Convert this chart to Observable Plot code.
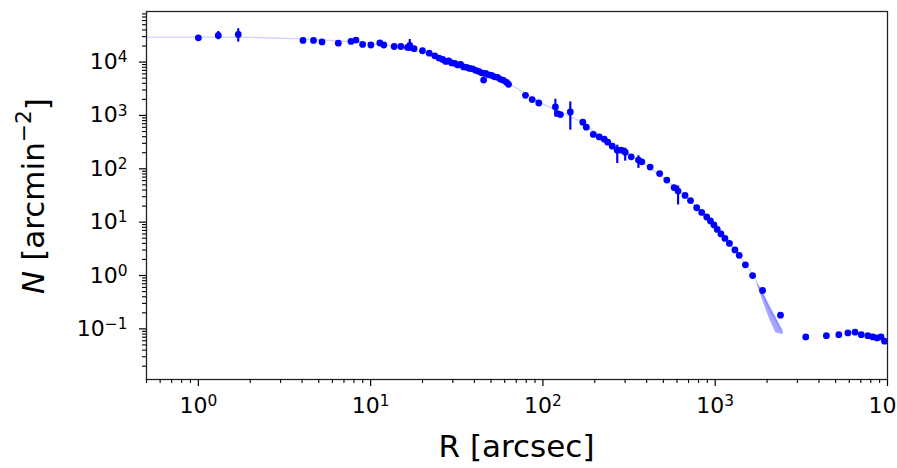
<!DOCTYPE html>
<html><head><meta charset="utf-8">
<script src="https://cdn.jsdelivr.net/npm/d3@7"></script>
<script src="https://cdn.jsdelivr.net/npm/@observablehq/plot@0.6"></script>
<style>
html,body{margin:0;padding:0;background:#fff;overflow:hidden;}
</style></head><body><div id="chart"></div>
<script>
// Observed profile points: radius R [arcsec] and surface density N [arcmin^-2]
const R = [1.0, 1.305, 1.704, 4.05, 4.66, 5.22, 6.49, 7.69, 8.22, 8.98, 10.03, 11.31, 11.93, 13.69, 14.96, 16.36, 16.87, 17.87, 19.99, 21.88, 23.55, 24.94,
  26.19, 27.26, 28.38, 29.53, 30.74, 32.00, 33.30, 34.66, 36.07, 37.54, 39.07, 40.67, 42.33, 44.06, 45.25, 46.46, 48.36, 50.33, 52.39, 54.53, 56.75, 59.07, 61.48, 63.14,
  79.2, 86.6, 94.6, 118.1, 121.3, 126.3, 144.2, 170.4, 178.6, 196.1, 212.3, 227.0, 237.8, 252.6, 270.0, 284.7, 300.3, 325.3, 358.5, 375.1, 419.0,
  475.7, 523.6, 577.1, 608.7, 668.2, 719.0, 780.8, 834.9, 892.3, 938.7, 983.5, 1027.6, 1079.6, 1138.7, 1209.1, 1301.4, 1378.2, 1497.0,
  1648.0, 1882.7, 2392.6, 3353, 4418, 5218, 5891, 6484, 7043, 7691, 8221, 8696, 9171, 9608];
const N = [28500, 31500, 33000, 25500, 25500, 23900, 22600, 24400, 25800, 21400, 20900, 22800, 20900, 19600, 19600, 18800, 20500, 17800, 16300, 14700, 13100, 11900,
  11230, 10300, 10530, 9660, 9460, 8860, 9060, 8130, 7960, 7620, 7460, 7000, 6700, 6280, 4600, 6150, 5770, 5640, 5290, 5180, 4750, 4550, 4180, 3830,
  2385, 1983, 1712, 1442, 1085, 1039, 1163, 746, 602, 440, 396, 359, 316, 266, 223.6, 223.6, 205, 167.6, 145.4, 135.1, 107.6,
  81.3, 61.5, 44.5, 38.3, 31.7, 25.4, 18.6, 15.2, 12.5, 10.5, 8.87, 7.31, 6.02, 4.96, 4.00, 3.02, 2.39, 1.585,
  0.996, 0.524, 0.1804, 0.0706, 0.0746, 0.0779, 0.0838, 0.0868, 0.0779, 0.0746, 0.0706, 0.0676, 0.0706, 0.0589];

// Error bars
const errR  = [1.305, 1.704, 16.87, 45.25, 118.1, 144.2, 270.0, 300.3, 358.5, 608.7];
const errLo = [26200, 23700, 15800, 4000, 938, 529, 126, 139, 101.7, 20.97];
const errHi = [37500, 42100, 26500, 5300, 2009, 1788, 277, 244, 175, 47.5];

// Model curve
const modelR = [0.5, 1, 2, 4, 8, 15, 25, 40, 60, 100, 160, 250, 400, 600, 900, 1300, 1700, 2100, 2470];
const modelN = [29300, 29300, 29000, 27200, 24000, 19500, 12000, 7000, 4400, 1650, 820, 290, 118, 42, 12.5, 3.1, 0.9, 0.21, 0.085];

// Model uncertainty band
const bandR  = [1745, 1890, 2075, 2247, 2467];
const bandHi = [0.731, 0.496, 0.2714, 0.1690, 0.0926];
const bandLo = [0.700, 0.3365, 0.1486, 0.0849, 0.0779];

// Axis tick labels (exponents of 10)
const xMajor = [1, 10, 100, 1000, 10000];
const xMajorLabels = ["0", "1", "2", "3", "4"];
const yMajor = [0.1, 1, 10, 100, 1000, 10000];
const yMajorLabels = ["\u22121", "0", "1", "2", "3", "4"];

const points = R.map((r, i) => ({R: r, N: N[i]}));
const errs = errR.map((r, i) => ({R: r, lo: errLo[i], hi: errHi[i]}));
const model = modelR.map((r, i) => ({R: r, N: modelN[i]}));
const band = bandR.map((r, i) => ({R: r, lo: bandLo[i], hi: bandHi[i]}));

function minorTicks(lo, hi, eLo, eHi) {
  const out = [];
  for (let e = eLo; e <= eHi; e++) for (let m = 2; m <= 9; m++) {
    const v = m * Math.pow(10, e);
    if (v >= lo && v <= hi) out.push(v);
  }
  return out;
}

const xDomain = [0.5, 10000];
const yDomain = [0.01125, 88700];

const chart = Plot.plot({
  width: 897, height: 468,
  marginLeft: 146, marginRight: 10, marginTop: 11, marginBottom: 89,
  style: {fontFamily: "'DejaVu Sans', sans-serif", fontSize: "22px", color: "#000", background: "#fff"},
  x: {type: "log", domain: xDomain},
  y: {type: "log", domain: yDomain},
  marks: [
    Plot.line(model, {x: "R", y: "N", stroke: "#0000ff", strokeOpacity: 0.18, strokeWidth: 1.4}),
    Plot.areaY(band, {x: "R", y1: "lo", y2: "hi", fill: "#0000ff", fillOpacity: 0.35}),
    Plot.ruleX(errs, {x: "R", y1: "lo", y2: "hi", stroke: "#0000ff", strokeWidth: 2.2}),
    Plot.dot(points, {x: "R", y: "N", r: 3.4, fill: "#0000ff", stroke: "none"}),
    Plot.frame({stroke: "#222", strokeWidth: 1.3}),
    Plot.axisX({ticks: minorTicks(xDomain[0], xDomain[1], -1, 3), tickSize: 4, tickFormat: () => "", label: null, strokeWidth: 1.1}),
    Plot.axisX({ticks: xMajor, tickSize: 7, tickPadding: 11, label: null, strokeWidth: 1.2,
      tickFormat: d => "10^" + xMajorLabels[xMajor.indexOf(d)]}),
    Plot.axisY({ticks: minorTicks(yDomain[0], yDomain[1], -2, 4), tickSize: 4, tickFormat: () => "", label: null, strokeWidth: 1.1}),
    Plot.axisY({ticks: yMajor, tickSize: 7, tickPadding: 12, label: null, strokeWidth: 1.2,
      tickFormat: d => "10^" + yMajorLabels[yMajor.indexOf(d)]})
  ]
});

document.getElementById("chart").appendChild(chart);

// Render "10^k" tick labels with real superscripts
const svg = d3.select(chart);
svg.selectAll("text").each(function() {
  const t = d3.select(this);
  const s = this.textContent;
  if (s.indexOf("^") < 0) return;
  const [base, exp] = s.split("^");
  t.text(null);
  t.append("tspan").text(base);
  t.append("tspan").attr("dy", "-0.45em").attr("font-size", "70%").text(exp);
});

// Axis titles
svg.append("text")
  .attr("x", (146 + 887) / 2).attr("y", 446)
  .attr("text-anchor", "middle").attr("dominant-baseline", "central")
  .attr("font-family", "'DejaVu Sans', sans-serif").attr("font-size", 31).attr("fill", "#000")
  .text("R [arcsec]");

const yl = svg.append("text")
  .attr("transform", "translate(33,196) rotate(-90)")
  .attr("text-anchor", "middle").attr("dominant-baseline", "central")
  .attr("font-family", "'DejaVu Sans', sans-serif").attr("font-size", 31).attr("fill", "#000");
yl.append("tspan").attr("font-style", "italic").text("N");
yl.append("tspan").text(" [arcmin");
yl.append("tspan").attr("dy", "-0.45em").attr("font-size", "70%").text("\u22122");
yl.append("tspan").attr("dy", "0.45em").text("]");
</script>
</body></html>
